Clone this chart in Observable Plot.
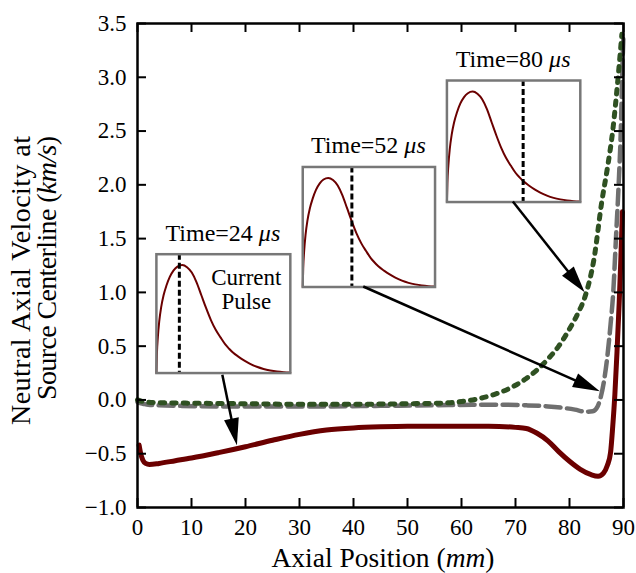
<!DOCTYPE html>
<html><head><meta charset="utf-8">
<script src="https://cdn.jsdelivr.net/npm/d3@7"></script>
<script src="https://cdn.jsdelivr.net/npm/@observablehq/plot@0.6"></script>
<style>body{margin:0;background:#fff} #chart svg{display:block}</style>
</head><body><div id="chart"></div>
<script>
const FONT = "'Liberation Serif','Times New Roman',serif";

// ---- main series: axial position (mm) vs velocity (km/s)
const x24 = [0.3, 0.6, 1.0, 1.5, 2.2, 4, 7, 10, 15, 20, 25, 30, 35, 40, 45, 50, 55, 60, 65, 70, 72, 74, 76, 78, 80, 82, 84, 85.3, 86.3, 87.0, 87.6, 88.0, 88.4, 88.8, 89.2, 89.5, 89.8];
const v24 = [-0.42, -0.5, -0.56, -0.59, -0.60, -0.59, -0.565, -0.54, -0.49, -0.435, -0.375, -0.32, -0.28, -0.26, -0.25, -0.245, -0.245, -0.245, -0.245, -0.255, -0.265, -0.31, -0.38, -0.48, -0.57, -0.645, -0.695, -0.71, -0.68, -0.61, -0.49, -0.25, 0.05, 0.45, 0.9, 1.3, 1.75];

const x52 = [0, 0.5, 1, 2, 4, 8, 15, 25, 35, 45, 55, 62, 68, 72, 76, 79, 81, 83, 84.3, 85.2, 85.8, 86.3, 87, 87.6, 88.1, 88.6, 89.1, 89.5, 89.8, 90];
const v52 = [-0.02, -0.03, -0.035, -0.045, -0.05, -0.055, -0.06, -0.06, -0.06, -0.055, -0.05, -0.045, -0.045, -0.05, -0.06, -0.075, -0.09, -0.11, -0.105, -0.06, 0.03, 0.15, 0.4, 0.7, 1.0, 1.5, 2.0, 2.5, 3.1, 3.4];

const x80 = [0, 1, 3, 10, 20, 30, 40, 50, 56, 60, 63, 66, 69, 72, 74, 76, 78, 80, 81.5, 83, 84.5, 86, 87, 88, 89, 89.7];
const v80 = [0.0, -0.015, -0.025, -0.03, -0.035, -0.04, -0.04, -0.035, -0.03, -0.015, 0.01, 0.05, 0.11, 0.2, 0.28, 0.38, 0.5, 0.66, 0.8, 0.98, 1.3, 1.85, 2.15, 2.5, 3.0, 3.4];

// ---- current pulse (inset), time in µs, normalised current
const pulseT = [0, 0.5, 1.5, 3, 5, 7.5, 10.5, 14, 18, 22, 27, 32, 37, 42, 47, 52, 57, 62, 67, 72, 76, 80, 86, 92, 98, 105, 112, 119, 126, 133, 140];
const pulseI = [0, 0.17, 0.33, 0.48, 0.61, 0.72, 0.81, 0.89, 0.95, 0.985, 1.0, 0.98, 0.93, 0.84, 0.72, 0.60, 0.49, 0.40, 0.33, 0.265, 0.225, 0.19, 0.15, 0.115, 0.085, 0.058, 0.038, 0.024, 0.014, 0.008, 0.005];

// ---- insets (extent given in the main chart's data units)
const insetTimes = [24, 52, 80];
const insetLeft = [3.5, 30.6, 57.3];
const insetRight = [28.3, 55.1, 82.0];
const insetTop = [1.355, 2.166, 2.97];
const insetBottom = [0.25, 1.05, 1.84];
const pulseLabel = "Current\nPulse";

// ---- arrows (data units)
const arrowX1 = [15.8, 41.9, 69.6];
const arrowY1 = [0.23, 1.05, 1.84];
const arrowX2 = [18.5, 85.7, 82.9];
const arrowY2 = [-0.425, 0.077, 0.996];

// ---- ticks / labels
const xTicks = [0, 10, 20, 30, 40, 50, 60, 70, 80, 90];
const yTicks = [-1.0, -0.5, 0.0, 0.5, 1.0, 1.5, 2.0, 2.5, 3.0, 3.5];
const xLabel = ["Axial Position (", "mm", ")"];
const yLabel1 = "Neutral Axial Velocity at";
const yLabel2 = ["Source Centerline (", "km/s", ")"];

const W = 636, H = 573;
const M = {top: 23, right: 13, bottom: 66, left: 137};
const plotW = W - M.left - M.right, plotH = H - M.top - M.bottom;
const TL = 9;

const rows = (xs, ys) => xs.map((x, i) => ({x, y: ys[i]}));

function insetsMark(index, scales) {
  const g = d3.create("svg:g");
  insetTimes.forEach((t, i) => {
    const x0 = scales.x(insetLeft[i]), x1 = scales.x(insetRight[i]);
    const y0 = scales.y(insetTop[i]), y1 = scales.y(insetBottom[i]);
    const w = x1 - x0, h = y1 - y0;
    const marks = [
      Plot.line(rows(pulseT, pulseI), {x: "x", y: "y", stroke: "#6b0000", strokeWidth: 2, curve: "monotone-x"}),
      Plot.ruleX([t], {stroke: "black", strokeWidth: 3, strokeDasharray: "6,3"}),
      Plot.frame({stroke: "#777", strokeWidth: 2.5})
    ];
    if (i === 0) marks.push(Plot.text([pulseLabel], {x: 94, y: 0.975, text: d => d, lineAnchor: "top", lineHeight: 1.04, fontSize: 23, fill: "black"}));
    const sub = Plot.plot({
      width: w, height: h, margin: 0,
      x: {domain: [0, 140], axis: null},
      y: {domain: [0, 1.1], axis: null},
      style: {fontFamily: FONT, fontSize: "23px", overflow: "visible", background: "none", width: w + "px", height: h + "px", maxWidth: "none"},
      marks
    });
    sub.setAttribute("x", x0);
    sub.setAttribute("y", y0);
    g.append(() => sub);
    const tt = g.append("text").attr("x", (x0 + x1) / 2).attr("y", y0 - 13)
      .attr("text-anchor", "middle").attr("font-size", 24).attr("font-family", FONT).attr("fill", "black");
    tt.append("tspan").text(`Time=${t} `);
    tt.append("tspan").attr("font-style", "italic").text("μs");
  });
  return g.node();
}

function arrowsMark(index, scales) {
  const g = d3.create("svg:g");
  const HL = 27, HW = 7.5;
  arrowX1.forEach((_, i) => {
    const x1 = scales.x(arrowX1[i]), y1 = scales.y(arrowY1[i]);
    const x2 = scales.x(arrowX2[i]), y2 = scales.y(arrowY2[i]);
    const dx = x2 - x1, dy = y2 - y1, L = Math.hypot(dx, dy), ux = dx / L, uy = dy / L;
    const bx = x2 - ux * HL, by = y2 - uy * HL;
    g.append("line").attr("x1", x1).attr("y1", y1).attr("x2", bx + ux * 2).attr("y2", by + uy * 2)
      .attr("stroke", "black").attr("stroke-width", 2.5);
    g.append("path").attr("d", `M${x2},${y2}L${bx - uy * HW},${by + ux * HW}L${bx + uy * HW},${by - ux * HW}Z`)
      .attr("fill", "black");
  });
  return g.node();
}

function labelsMark(index, scales, values, dims) {
  const g = d3.create("svg:g").attr("font-family", FONT).attr("fill", "black");
  const cx = (dims.marginLeft + dims.width - dims.marginRight) / 2;
  const tx = g.append("text").attr("x", cx + 3).attr("y", 567).attr("text-anchor", "middle").attr("font-size", 27.5);
  tx.append("tspan").text(xLabel[0]);
  tx.append("tspan").attr("font-style", "italic").text(xLabel[1]);
  tx.append("tspan").text(xLabel[2]);
  const top = 136;
  g.append("text").attr("transform", `translate(30,${top}) rotate(-90)`).attr("text-anchor", "end")
    .attr("font-size", 28).attr("textLength", 289).attr("lengthAdjust", "spacing").text(yLabel1);
  const t2 = g.append("text").attr("transform", `translate(56,${top}) rotate(-90)`).attr("text-anchor", "end")
    .attr("font-size", 28).attr("textLength", 264).attr("lengthAdjust", "spacing");
  t2.append("tspan").text(yLabel2[0]);
  t2.append("tspan").attr("font-style", "italic").text(yLabel2[1]);
  t2.append("tspan").text(yLabel2[2]);
  return g.node();
}

const chart = Plot.plot({
  width: W, height: H,
  marginTop: M.top, marginRight: M.right, marginBottom: M.bottom, marginLeft: M.left,
  style: {fontFamily: FONT, fontSize: "23px", background: "white", color: "black"},
  x: {domain: [0, 90], ticks: xTicks, tickSize: 0, tickPadding: 11, label: null, tickFormat: d => String(d)},
  y: {domain: [-1, 3.5], ticks: yTicks, tickSize: 0, tickPadding: 11, label: null, tickFormat: ".1f"},
  marks: [
    Plot.line(rows(x52, v52), {x: "x", y: "y", stroke: "#6f6f6f", strokeWidth: 4.5, strokeDasharray: "15,6.5", curve: "monotone-x"}),
    Plot.line(rows(x80, v80), {x: "x", y: "y", stroke: "#2f5122", strokeWidth: 5, strokeDasharray: "4.5,7", curve: "monotone-x"}),
    Plot.line(rows(x24, v24), {x: "x", y: "y", stroke: "#6b0000", strokeWidth: 5, curve: "monotone-x"}),
    Plot.tickX(xTicks, {x: d => d, stroke: "black", strokeWidth: 2, insetTop: plotH - TL}),
    Plot.tickX(xTicks, {x: d => d, stroke: "black", strokeWidth: 2, insetBottom: plotH - TL}),
    Plot.tickY(yTicks, {y: d => d, stroke: "black", strokeWidth: 2, insetRight: plotW - TL}),
    Plot.tickY(yTicks, {y: d => d, stroke: "black", strokeWidth: 2, insetLeft: plotW - TL}),
    Plot.frame({stroke: "black", strokeWidth: 2.5}),
    insetsMark,
    arrowsMark,
    labelsMark
  ]
});
document.getElementById("chart").appendChild(chart);
</script>
</body></html>
